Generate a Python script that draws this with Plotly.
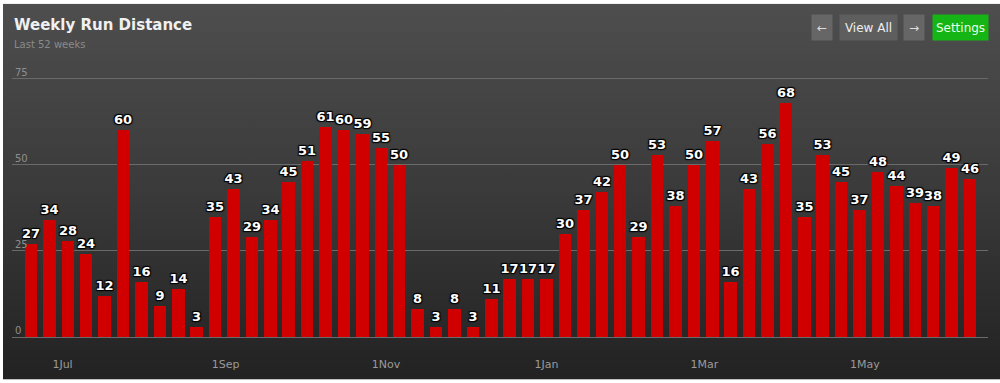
import base64
import plotly.graph_objects as go
import pandas as pd

# ---- data ----
first_week = "2015-06-19"
distances = [27, 34, 28, 24, 12, 60, 16, 9, 14, 3,
             35, 43, 29, 34, 45, 51, 61, 60, 59, 55,
             50, 8, 3, 8, 3, 11, 17, 17, 17, 30,
             37, 42, 50, 29, 53, 38, 50, 57, 16, 43,
             56, 68, 35, 53, 45, 37, 48, 44, 39, 38,
             49, 46]
x_tick_dates = ["2015-07-01", "2015-09-01", "2015-11-01", "2016-01-01", "2016-03-01", "2016-05-01"]
x_tick_labels = ["1Jul", "1Sep", "1Nov", "1Jan", "1Mar", "1May"]
y_ticks = [0, 25, 50, 75]

weeks = pd.date_range(first_week, periods=len(distances), freq="7D")

W, H = 1000, 383
L, R, T, B = 12, 12, 62, 40
pw, ph = W - L - R, H - T - B
unit_px = 261 / 75.0
y_min = -(43 - B) / unit_px
y_max = 75 + (79 - T) / unit_px


def px_x(x):
    return (x - L) / pw


def px_y(y):
    return (H - B - y) / ph


fig = go.Figure()
fig.add_trace(go.Bar(
    x=weeks, y=distances,
    width=7 * 24 * 3600 * 1000 * 0.68,
    marker=dict(color="#d10000", line=dict(width=0)),
    text=[str(v) for v in distances],
    textposition="outside",
    constraintext="none",
    cliponaxis=False,
    textfont=dict(family="DejaVu Sans", size=13, color="white", weight="bold",
                  shadow="1px 1px 1px #000, -1px -1px 1px #000, 1px -1px 1px #000, -1px 1px 1px #000"),
    hoverinfo="x+y",
))

# smooth background gradient as an SVG image
svg = ('<svg xmlns="http://www.w3.org/2000/svg" width="100" height="100" preserveAspectRatio="none">'
       '<defs><linearGradient id="g" x1="0" y1="0" x2="0" y2="1">'
       '<stop offset="0" stop-color="#4e4e4e"/><stop offset="0.5" stop-color="#3a3a3a"/>'
       '<stop offset="1" stop-color="#222222"/></linearGradient></defs>'
       '<rect width="100" height="100" fill="url(#g)"/></svg>')
svg_uri = "data:image/svg+xml;base64," + base64.b64encode(svg.encode()).decode()

images = [dict(source=svg_uri, xref="paper", yref="paper", x=px_x(3), y=px_y(3),
               sizex=(W - 3) / pw, sizey=(H - 3) / ph, sizing="stretch",
               xanchor="left", yanchor="top", layer="below")]

annotations = [
    dict(text="<b>Weekly Run Distance</b>", xref="paper", yref="paper", x=px_x(12), y=px_y(25),
         xanchor="left", yanchor="middle", showarrow=False,
         font=dict(family="DejaVu Sans", size=15, color="#f0f0f0")),
    dict(text="Last 52 weeks", xref="paper", yref="paper", x=px_x(12), y=px_y(44),
         xanchor="left", yanchor="middle", showarrow=False,
         font=dict(family="DejaVu Sans", size=10, color="#8a8a8a")),
]

# y-axis labels sitting just above their gridlines
for v in y_ticks:
    annotations.append(dict(text=str(v), xref="paper", yref="y", x=px_x(14), y=v,
                            xanchor="left", yanchor="bottom", showarrow=False, borderpad=0,
                            yshift=0,
                            font=dict(family="DejaVu Sans", size=10, color="#8f8f8f")))

buttons = [("←", 822, 20, "#666666", "#dddddd"), ("View All", 868, 57, "#5e5e5e", "#eeeeee"),
           ("→", 914, 20, "#666666", "#dddddd"), ("Settings", 960, 55, "#14b514", "#e8ffe8")]
for label, cx, bw, bg, fc in buttons:
    annotations.append(dict(text=label, xref="paper", yref="paper", x=px_x(cx), y=px_y(27.5),
                            xanchor="center", yanchor="middle", showarrow=False,
                            bgcolor=bg, borderpad=0, width=bw, height=25, align="center",
                            font=dict(family="DejaVu Sans", size=12, color=fc)))

fig.update_layout(
    width=W, height=H,
    margin=dict(l=L, r=R, t=T, b=B),
    paper_bgcolor="white",
    plot_bgcolor="rgba(0,0,0,0)",
    images=images,
    annotations=annotations,
    showlegend=False,
    bargap=0,
    xaxis=dict(
        type="date",
        range=["2015-06-11 19:00", "2016-06-16 20:00"],
        tickvals=x_tick_dates, ticktext=x_tick_labels,
        showgrid=False, zeroline=False, showline=False, ticks="",
        tickfont=dict(family="DejaVu Sans", size=11, color="#9a9a9a"),
        ticklabelstandoff=16,
    ),
    yaxis=dict(
        range=[y_min, y_max],
        tickvals=y_ticks,
        showticklabels=False,
        showgrid=True, gridcolor="#6a6a6a", gridwidth=1,
        zeroline=False, showline=False, ticks="",
    ),
)

fig.write_html("out.html", config={"displayModeBar": False},
               post_script="document.body.style.margin='0';")
